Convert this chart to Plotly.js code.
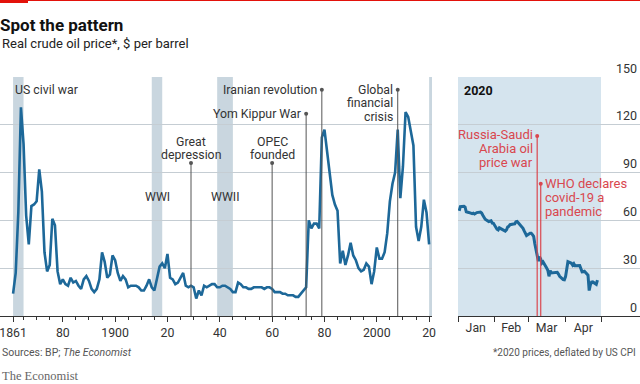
<!DOCTYPE html>
<html>
<head>
<meta charset="utf-8">
<script src="https://cdn.plot.ly/plotly-3.0.1.min.js"></script>
<style>html,body{margin:0;padding:0;background:#fff;}#chart{width:640px;height:384px;}</style>
</head>
<body>
<div id="chart"></div>
<script>
// ---- Long-run annual real oil price ($2020 per barrel) ----
const years = [1861,1862,1863,1864,1865,1866,1867,1868,1869,1870,1871,1872,1873,1874,1875,1876,1877,1878,1879,1880,
1881,1882,1883,1884,1885,1886,1887,1888,1889,1890,1891,1892,1893,1894,1895,1896,1897,1898,1899,1900,
1901,1902,1903,1904,1905,1906,1907,1908,1909,1910,1911,1912,1913,1914,1915,1916,1917,1918,1919,1920,
1921,1922,1923,1924,1925,1926,1927,1928,1929,1930,1931,1932,1933,1934,1935,1936,1937,1938,1939,1940,
1941,1942,1943,1944,1945,1946,1947,1948,1949,1950,1951,1952,1953,1954,1955,1956,1957,1958,1959,1960,
1961,1962,1963,1964,1965,1966,1967,1968,1969,1970,1971,1972,1973,1974,1975,1976,1977,1978,1979,1980,
1981,1982,1983,1984,1985,1986,1987,1988,1989,1990,1991,1992,1993,1994,1995,1996,1997,1998,1999,2000,
2001,2002,2003,2004,2005,2006,2007,2008,2009,2010,2011,2012,2013,2014,2015,2016,2017,2018,2019,2020];
const annualPrice = [14,27,65,131,108,63,45,69,70,72,92,78,40,28,32,61,57,28,20,23,
20,19,24,21,22,19,17,23,25,22,17,15,17,23,40,34,24,26,38,35,
27,22,25,23,18,19,19,19,18,16,16,19,23,18,16,23,31,33,30,39,
24,23,20,21,24,27,19,18,19,18,11,16,13,19,18,19,20,20,18,18,
19,19,18,17,15,15,21,20,18,18,17,17,18,18,18,18,17,18,18,17,
15,15,15,14,14,13,13,13,12,12,14,16,18,60,55,58,58,55,112,117,
104,89,76,70,66,33,41,32,38,46,38,35,30,28,29,33,31,20,28,43,
36,36,40,52,72,83,90,117,74,94,128,125,117,107,56,47,56,73,65,45];

// ---- 2020 daily price ----
const dates2020 = ['2020-01-02','2020-01-03','2020-01-06','2020-01-07','2020-01-08','2020-01-09','2020-01-10','2020-01-13','2020-01-14','2020-01-15','2020-01-16','2020-01-17','2020-01-20','2020-01-21','2020-01-22','2020-01-23','2020-01-24','2020-01-27','2020-01-28','2020-01-29','2020-01-30','2020-01-31',
'2020-02-03','2020-02-04','2020-02-05','2020-02-06','2020-02-07','2020-02-10','2020-02-11','2020-02-12','2020-02-13','2020-02-14','2020-02-17','2020-02-18','2020-02-19','2020-02-20','2020-02-21','2020-02-24','2020-02-25','2020-02-26','2020-02-27','2020-02-28',
'2020-03-02','2020-03-03','2020-03-04','2020-03-05','2020-03-06','2020-03-09','2020-03-10','2020-03-11','2020-03-12','2020-03-13','2020-03-16','2020-03-17','2020-03-18','2020-03-19','2020-03-20','2020-03-23','2020-03-24','2020-03-25','2020-03-26','2020-03-27','2020-03-30','2020-03-31',
'2020-04-01','2020-04-02','2020-04-03','2020-04-06','2020-04-07','2020-04-08','2020-04-09','2020-04-13','2020-04-14','2020-04-15','2020-04-16','2020-04-17','2020-04-20','2020-04-21','2020-04-22','2020-04-23','2020-04-24','2020-04-27','2020-04-28'];
const dailyPrice = [66.0,68.6,68.9,68.3,65.4,65.4,65.0,64.2,64.5,64.0,64.6,64.9,65.2,64.6,63.2,62.0,60.7,59.3,59.5,59.8,58.3,58.2,
54.5,54.0,55.3,55.0,54.5,53.3,54.0,55.8,56.3,57.3,57.7,57.8,59.1,59.3,58.5,56.3,55.0,53.4,52.2,50.5,
51.9,51.9,51.1,50.0,45.3,34.4,37.2,35.8,33.2,33.9,30.1,28.7,24.9,28.5,27.0,27.0,27.2,27.4,26.3,24.9,22.8,22.7,
24.7,29.9,34.1,33.1,31.9,32.8,31.5,31.7,29.6,27.7,27.8,28.1,25.6,16.0,19.5,21.3,21.4,19.9,22.5];

// ---- labels ----
const xTickVals = [1861,1880,1900,1920,1940,1960,1980,2000,2020];
const xTickText = ['1861','80','1900','20','40','60','80','2000','20'];
const xMinorVals = [1865,1870,1875,1885,1890,1895,1905,1910,1915,1925,1930,1935,1945,1950,1955,1965,1970,1975,1985,1990,1995,2005,2010,2015];
const yTickVals = [0,30,60,90,120,150];
const monthStarts = ['2020-01-01','2020-02-01','2020-03-01','2020-04-01','2020-05-01'];
const monthMids = ['2020-01-16','2020-02-15','2020-03-16','2020-04-16'];
const monthNames = ['Jan','Feb','Mar','Apr'];

const warNames = ['US civil war','WWI','WWII',''];
const warStart = [1861,1914,1939,2020];
const warEnd = [1865,1918,1945,2021.1];

const eventNames = ['Great<br>depression','OPEC<br>founded','Yom Kippur War','Iranian revolution','Global<br>financial<br>crisis'];
const eventYears = [1929,1960,1973,1979,2008];
const eventNames2020 = ['Russia-Saudi<br>Arabia oil<br>price war','WHO declares<br>covid-19 a<br>pandemic'];
const eventDates2020 = ['2020-03-08','2020-03-11'];

// ---- styling / positions ----
const FONT = "Roboto, 'Noto Sans', sans-serif";
const BLUE = '#1d6899';
const RED = '#d9474f';
const TXT = '#333333';
const GRID = '#c5cdd3';
const W = 640, H = 384, TOP = 77, BOT = 316;
const ANN = 12.3;
const py = p => (BOT - p) / (BOT - TOP);     // pixel y -> paper y
const eventDotY = [96,96,127,142,142];
const eventDotY2020 = [113,83];

const traces = [
  {x: years, y: annualPrice, type:'scatter', mode:'lines', line:{color:BLUE, width:2.6}, xaxis:'x', yaxis:'y', hoverinfo:'skip'},
  {x: dates2020, y: dailyPrice, type:'scatter', mode:'lines', line:{color:BLUE, width:3}, xaxis:'x2', yaxis:'y2', hoverinfo:'skip'},
  {x: eventYears, y: eventDotY, type:'scatter', mode:'markers', marker:{color:'#555', size:4}, xaxis:'x', yaxis:'y', hoverinfo:'skip'},
  {x: eventDates2020, y: eventDotY2020, type:'scatter', mode:'markers', marker:{color:RED, size:4}, xaxis:'x2', yaxis:'y2', hoverinfo:'skip'}
];

const shapes = [];
warStart.forEach((s,i)=>{
  shapes.push({type:'rect', xref:'x', yref:'paper', x0:s, x1:warEnd[i], y0:0, y1:1, fillcolor:'#c9d6df', line:{width:0}, layer:'below'});
});
shapes.push({type:'rect', xref:'x2', yref:'paper', x0:monthStarts[0], x1:monthStarts[4], y0:0, y1:1, fillcolor:'#d5e4ee', line:{width:0}, layer:'below'});
eventYears.forEach((yr,i)=>{
  shapes.push({type:'line', xref:'x', yref:'y', x0:yr, x1:yr, y0:0, y1:eventDotY[i], line:{color:'#555', width:1}});
});
eventDates2020.forEach((d,i)=>{
  shapes.push({type:'line', xref:'x2', yref:'y2', x0:d, x1:d, y0:0, y1:eventDotY2020[i], line:{color:RED, width:1.2}});
});
// top red rule
shapes.push({type:'line', xref:'paper', yref:'paper', x0:0, x1:1, y0:py(0.5), y1:py(0.5), line:{color:'#e3120b', width:1}});
shapes.push({type:'rect', xref:'paper', yref:'paper', x0:0, x1:28/W, y0:py(0), y1:py(3), fillcolor:'#e3120b', line:{width:0}});

const annotations = [
  {text:'Real crude oil price*, $ per barrel', xref:'paper', yref:'paper', x:0, y:py(44), xanchor:'left', yanchor:'middle', showarrow:false, font:{size:13, color:'#222'}},
  {text:'Sources: BP; <i>The Economist</i>', xref:'paper', yref:'paper', x:0, y:py(352), xanchor:'left', yanchor:'middle', showarrow:false, font:{size:10.5, color:'#555'}},
  {text:'*2020 prices, deflated by US CPI', xref:'paper', yref:'paper', x:638/W, y:py(352), xanchor:'right', yanchor:'middle', showarrow:false, font:{size:10, color:'#555'}},
  {text:'The Economist', xref:'paper', yref:'paper', x:0, y:py(376), xanchor:'left', yanchor:'middle', showarrow:false, font:{family:"'Liberation Serif', 'DejaVu Serif', serif", size:12.5, color:'#666'}},
  {text:'<b>2020</b>', xref:'x2', yref:'y2', x:monthStarts[0], y:150, xanchor:'left', yanchor:'middle', xshift:4, yshift:-13, showarrow:false, font:{size:12.5, color:'#111'}},
  {text:warNames[0], xref:'x', yref:'y', x:warStart[0], y:142, xanchor:'left', yanchor:'middle', showarrow:false, font:{size:ANN, color:TXT}},
  {text:warNames[1], xref:'x', yref:'y', x:(warStart[1]+warEnd[1])/2, y:75, xanchor:'center', yanchor:'middle', showarrow:false, font:{size:ANN, color:TXT}},
  {text:warNames[2], xref:'x', yref:'y', x:(warStart[2]+warEnd[2])/2, y:75, xanchor:'center', yanchor:'middle', showarrow:false, font:{size:ANN, color:TXT}}
];

// multi-line labels with tight line spacing: one annotation per line
function addLabel(text, xref, yref, x, y, xanchor, xshift, firstShift, spacing, color, size){
  const lines = text.split('<br>');
  lines.forEach((ln, i)=>{
    annotations.push({text:ln, xref:xref, yref:yref, x:x, y:y, xanchor:xanchor, yanchor:'middle',
      xshift:xshift, yshift:-(firstShift + i*spacing), showarrow:false, font:{size:size, color:color}});
  });
}
const SP = 13.5;
// Great depression / OPEC: text sits above the dot
addLabel(eventNames[0], 'x','y', eventYears[0], eventDotY[0], 'center', 0, -(8 + SP), SP, TXT, ANN);
addLabel(eventNames[1], 'x','y', eventYears[1], eventDotY[1], 'center', 0, -(8 + SP), SP, TXT, ANN);
addLabel(eventNames[2], 'x','y', eventYears[2], eventDotY[2], 'right', -3, 0, SP, TXT, ANN);
addLabel(eventNames[3], 'x','y', eventYears[3], eventDotY[3], 'right', -3, 0, SP, TXT, ANN);
addLabel(eventNames[4], 'x','y', eventYears[4], eventDotY[4], 'right', -3, 0, SP, TXT, ANN);
addLabel(eventNames2020[0], 'x2','y2', eventDates2020[0], eventDotY2020[0], 'right', -2, -1, 14, RED, 13);
addLabel(eventNames2020[1], 'x2','y2', eventDates2020[1], eventDotY2020[1], 'left', 2, 0, 14, RED, 13);

const layout = {
  width:W, height:H,
  margin:{l:0, r:0, t:TOP, b:H-BOT, pad:0},
  paper_bgcolor:'#ffffff', plot_bgcolor:'rgba(0,0,0,0)',
  showlegend:false,
  font:{family:FONT, size:12, color:TXT},
  title:{text:'<b>Spot the pattern</b>', x:0, xref:'container', xanchor:'left', y:1-25/H, yref:'container', yanchor:'middle', font:{family:FONT, size:17, color:'#111'}},
  xaxis:{domain:[0,432/W], range:[1856,2021.1], tickmode:'array', tickvals:xTickVals, ticktext:xTickText,
    ticks:'outside', ticklen:5, tickcolor:'#333', tickwidth:1, showline:true, linecolor:'#333', linewidth:1,
    showgrid:false, zeroline:false, tickfont:{size:12.3, color:TXT}, ticklabeloverflow:'allow',
    minor:{tickmode:'array', tickvals:xMinorVals, ticks:'outside', ticklen:3, tickcolor:'#333', showgrid:false}, fixedrange:true},
  yaxis:{domain:[0,1], range:[0,150], tickmode:'array', tickvals:yTickVals.slice(1), showticklabels:false, ticks:'',
    showgrid:true, gridcolor:GRID, gridwidth:1, zeroline:false, showline:false, fixedrange:true},
  xaxis2:{domain:[458/W,1], anchor:'y2', type:'date', range:['2020-01-01','2020-06-03'], tickmode:'array', tickvals:monthMids, ticktext:monthNames,
    ticks:'', showline:true, linecolor:'#333', linewidth:1, showgrid:false, zeroline:false, tickfont:{size:12.3, color:TXT}, ticklabeloverflow:'allow',
    minor:{tickmode:'array', tickvals:monthStarts, ticks:'outside', ticklen:5, tickcolor:'#333', showgrid:false}, fixedrange:true},
  yaxis2:{domain:[0,1], anchor:'x2', side:'right', range:[0,150], tickmode:'array', tickvals:yTickVals,
    ticklabelposition:'inside top', ticklabeloverflow:'allow', ticks:'', showgrid:true, gridcolor:GRID, gridwidth:1,
    zeroline:false, showline:false, tickfont:{size:12.5, color:TXT}, fixedrange:true},
  shapes:shapes,
  annotations:annotations
};

Plotly.newPlot('chart', traces, layout, {staticPlot:true, displayModeBar:false});
</script>
</body>
</html>
